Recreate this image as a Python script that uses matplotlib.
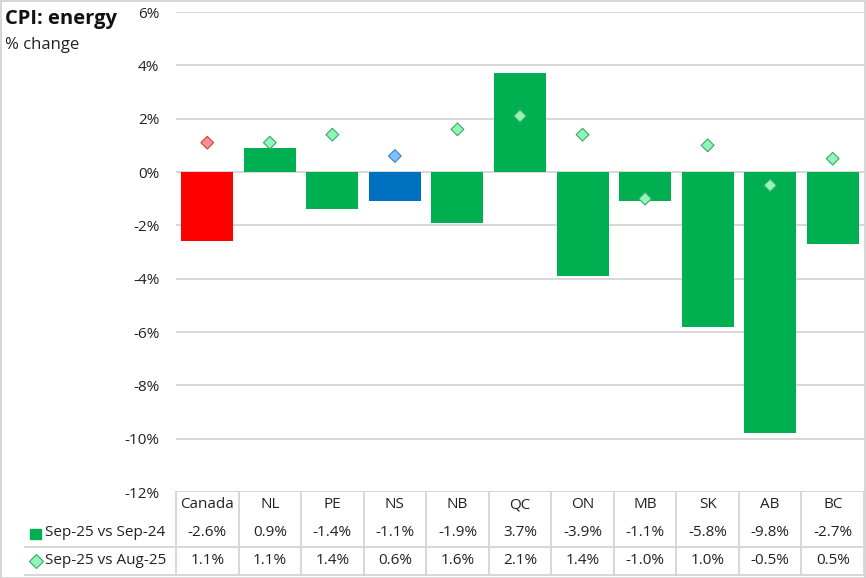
import matplotlib
matplotlib.use("Agg")
import matplotlib.pyplot as plt
from matplotlib.lines import Line2D
from matplotlib.patches import Rectangle
import matplotlib.transforms as mtransforms

categories = ["Canada", "NL", "PE", "NS", "NB", "QC", "ON", "MB", "SK", "AB", "BC"]
yoy = [-2.6, 0.9, -1.4, -1.1, -1.9, 3.7, -3.9, -1.1, -5.8, -9.8, -2.7]
mom = [1.1, 1.1, 1.4, 0.6, 1.6, 2.1, 1.4, -1.0, 1.0, -0.5, 0.5]
series_names = ["Sep-25 vs Sep-24", "Sep-25 vs Aug-25"]
yticks = [6, 4, 2, 0, -2, -4, -6, -8, -10, -12]

plt.rcParams['font.family'] = ['Open Sans', 'DejaVu Sans']

W, H = 866, 578
fig = plt.figure(figsize=(W / 100, H / 100), dpi=100)
fig.patch.set_facecolor("white")

FS = 11
left, right, top, bottom = 176, 864, 12, 492
ax = fig.add_axes([left / W, 1 - bottom / H, (right - left) / W, (bottom - top) / H])

bar_colors = []
dia_face = []
dia_edge = []
for c in categories:
    if c == "Canada":
        bar_colors.append("#FF0000"); dia_face.append("#FF9090"); dia_edge.append("#D04040")
    elif c == "NS":
        bar_colors.append("#0070C0"); dia_face.append("#7FC0FF"); dia_edge.append("#3C7FC0")
    else:
        bar_colors.append("#00B050"); dia_face.append("#8FF5B8"); dia_edge.append("#3AA866")

x = list(range(len(categories)))
ax.bar(x, yoy, width=0.83, color=bar_colors, zorder=2)
ax.scatter(x, mom, marker="D", s=42, c=dia_face, edgecolors=dia_edge, linewidths=0.8, zorder=3)

ax.set_xlim(-0.5, len(categories) - 0.5)
ax.set_ylim(-12, 6)
ax.set_yticks(yticks)
ax.set_yticklabels([f"{t}%" for t in yticks], fontsize=FS, color="#222222")
ax.tick_params(axis="y", length=0, pad=12)
ax.set_xticks([])
ax.grid(axis="y", color="#D4D4D4", linewidth=1.3, zorder=0)
ax.set_axisbelow(True)
for s in ax.spines.values():
    s.set_visible(False)

trans = mtransforms.blended_transform_factory(ax.transData, fig.transFigure)
def fy(py):
    return 1 - py / H

grid_col = "#D4D4D4"
n = len(categories)
for i in range(n + 1):
    xb = i - 0.5
    fig.add_artist(Line2D([xb, xb], [fy(492), fy(575)], transform=trans, color=grid_col, lw=1.3))
for py in (547, 575):
    fig.add_artist(Line2D([25 / W, right / W], [fy(py), fy(py)], transform=fig.transFigure, color=grid_col, lw=1.3))

row_y = [505, 533, 561]
for i, c in enumerate(categories):
    ax.text(i, fy(row_y[0]), c, transform=trans, ha="center", va="center", fontsize=FS, color="#222222", clip_on=False)
    ax.text(i, fy(row_y[1]), f"{yoy[i]:.1f}%", transform=trans, ha="center", va="center", fontsize=FS, color="#222222", clip_on=False)
    ax.text(i, fy(row_y[2]), f"{mom[i]:.1f}%", transform=trans, ha="center", va="center", fontsize=FS, color="#222222", clip_on=False)

fig.add_artist(Rectangle((30 / W, fy(539)), 11 / W, 10 / H, transform=fig.transFigure, color="#00B050"))
fig.text(45 / W, fy(row_y[1]), series_names[0], ha="left", va="center", fontsize=FS, color="#222222")
fig.add_artist(Line2D([36 / W], [fy(561)], transform=fig.transFigure, marker="D", markersize=7,
                      markerfacecolor="#8FF5B8", markeredgecolor="#3AA866", markeredgewidth=0.8, linestyle="none"))
fig.text(45 / W, fy(row_y[2]), series_names[1], ha="left", va="center", fontsize=FS, color="#222222")

fig.text(5 / W, fy(19), "CPI: energy", ha="left", va="center", fontsize=14.5, fontweight="bold", color="#111111")
fig.text(5 / W, fy(45), "% change", ha="left", va="center", fontsize=12, color="#222222")

fig.add_artist(Rectangle((0.5 / W, 0.5 / H), (W - 1.5) / W, (H - 1.5) / H, transform=fig.transFigure,
                         fill=False, edgecolor="#D0D0D0", lw=1.2))

fig.savefig("out.png", dpi=100, facecolor="white")
